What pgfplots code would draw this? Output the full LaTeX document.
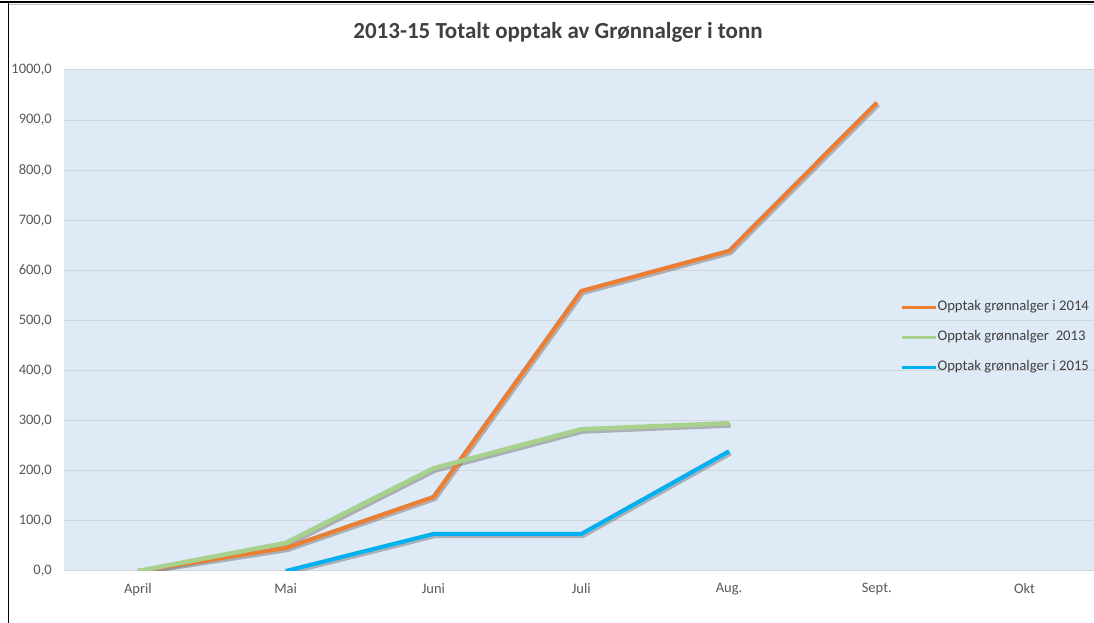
\documentclass[border=0pt]{standalone}
\usepackage{pgfplots}
\pgfplotsset{compat=1.18}
\usepackage{fontspec}
\setmainfont{Carlito}
\definecolor{bg}{HTML}{DEEAF6}
\definecolor{gridc}{HTML}{D2D6DB}
\definecolor{c14}{HTML}{ED7D31}
\definecolor{c13}{HTML}{A9D18E}
\definecolor{c15}{HTML}{00B0F0}
\definecolor{txt}{HTML}{595959}
\definecolor{ttl}{HTML}{404040}
\definecolor{shd}{HTML}{7F7F7F}
\begin{document}
\begin{tikzpicture}[x=1pt,y=1pt]
\path[use as bounding box] (0,0) rectangle (1094,623);
\fill[white] (0,0) rectangle (1094,623);
\draw[black, line width=2.5pt] (0,621) -- (1094,621);
\draw[gray!50, line width=0.8pt] (9,618.5) -- (1094,618.5);
\draw[black, line width=1.5pt] (8.5,0) -- (8.5,621);
\node[font=\fontsize{23}{27}\selectfont\bfseries, text=ttl] at (558,591) {2013-15 Totalt opptak av Grønnalger i tonn};
\begin{axis}[
  at={(64pt,52pt)}, anchor=south west,
  scale only axis, width=1030pt, height=501pt,
  xmin=-0.5, xmax=6.47, ymin=0, ymax=1000,
  axis background/.style={fill=bg},
  axis line style={draw=none},
  major tick length=0pt,
  xtick={0,1,2,3,4,5,6},
  xticklabels={April,Mai,Juni,Juli,Aug.,Sept.,Okt},
  ytick={0,100,...,1000},
  ymajorgrids,
  grid style={color=gridc, line width=1pt},
  /pgf/number format/assume math mode=true,
  /pgf/number format/fixed,
  /pgf/number format/fixed zerofill,
  /pgf/number format/precision=1,
  /pgf/number format/use comma,
  /pgf/number format/1000 sep={},
  ticklabel style={font=\fontsize{14.5}{17}\selectfont, text=txt, inner sep=0pt},
  yticklabel style={xshift=-12pt},
  xticklabel style={yshift=-12pt},
  legend style={draw=none, fill=none, at={(0.809,0.467)}, anchor=west,
    font=\fontsize{14.7}{17}\selectfont, text=ttl,
    nodes={inner sep=0pt, text height=10pt, text depth=3pt},
    row sep=17pt, cells={anchor=west}},
  legend image code/.code={\draw[#1, line width=3pt] (0pt,0pt) -- (34pt,0pt);},
  legend cell align=left,
]
% shadows
\addplot[shd, opacity=0.55, line width=4.5pt, shift={(1.5pt,-2pt)}, forget plot] coordinates {(0,0) (1,46) (2,148) (3,559) (4,639) (5,935)};
\addplot[shd, opacity=0.55, line width=5pt, shift={(1.5pt,-2pt)}, forget plot] coordinates {(0,0) (1,56) (2,205) (3,283) (4,295)};
\addplot[shd, opacity=0.55, line width=4.5pt, shift={(1.5pt,-2pt)}, forget plot] coordinates {(1,0) (2,74) (3,74) (4,239)};
% series
\addplot[c14, line width=4pt, line join=round] coordinates {(0,0) (1,46) (2,148) (3,559) (4,639) (5,935)};
\addlegendentry{Opptak grønnalger i 2014}
\addplot[c13, line width=4.5pt, line join=round] coordinates {(0,0) (1,56) (2,205) (3,283) (4,295)};
\addlegendentry{Opptak grønnalger\ \ 2013}
\addplot[c15, line width=4pt, line join=round] coordinates {(1,0) (2,74) (3,74) (4,239)};
\addlegendentry{Opptak grønnalger i 2015}
\end{axis}
\end{tikzpicture}
\end{document}
